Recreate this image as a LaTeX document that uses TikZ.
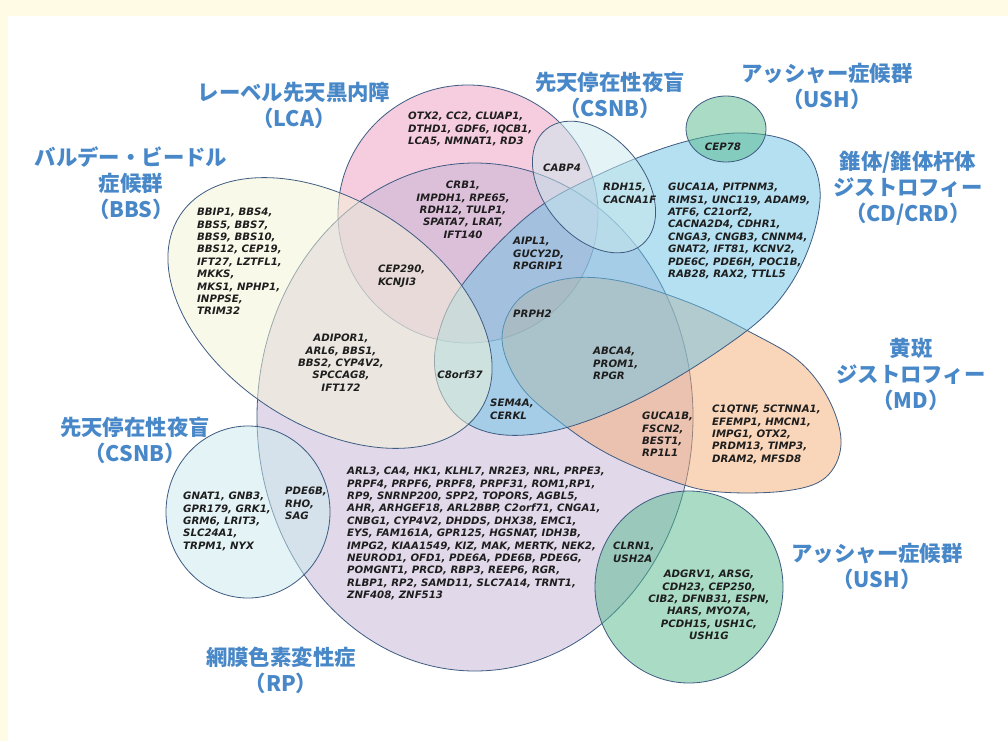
\documentclass[tikz,border=0pt]{standalone}
\usepackage{fontspec}
\newfontfamily\jp{Noto Sans CJK JP}
\newfontfamily\gene{DejaVu Sans}
\definecolor{lcaC}{RGB}{237,157,193}
\definecolor{rpC}{RGB}{197,181,215}
\definecolor{bbsC}{RGB}{245,245,215}
\definecolor{cdC}{RGB}{107,195,229}
\definecolor{mdC}{RGB}{245,173,117}
\definecolor{ushC}{RGB}{85,185,141}
\definecolor{csnbC}{RGB}{203,233,237}
\definecolor{edgeC}{RGB}{62,92,130}
\definecolor{labC}{RGB}{72,136,200}
\definecolor{geneC}{RGB}{30,30,30}
\definecolor{frameC}{RGB}{255,251,228}
\begin{document}
\begin{tikzpicture}[x=1pt,y=-1pt,
  setshape/.style={draw=edgeC, line width=0.8pt, fill opacity=0.5},
  gene/.style={font=\gene\bfseries\itshape\fontsize{10.2}{12.4}\selectfont, text=geneC, inner sep=0pt, align=left},
  genec/.style={gene, align=center},
  lab/.style={font=\jp\bfseries\fontsize{21.4}{26}\selectfont, text=labC, inner sep=0pt, align=center}]
\useasboundingbox (0,0) rectangle (1008,741);
\fill[frameC] (0,0) rectangle (1008,741);
\fill[white] (8,16) rectangle (1008,741);
% sets
\draw[setshape, fill=lcaC] (468,214) ellipse [x radius=130, y radius=129];
\draw[setshape, fill=rpC] (475,417) ellipse [x radius=218, y radius=254];
\draw[setshape, fill=mdC] plot[smooth cycle, tension=0.6] coordinates {(502,338) (520,298) (565,279) (620,281) (690,303) (750,332) (800,362) (830,402) (841,445) (825,478) (785,491) (720,492) (675,482) (610,455) (560,422) (520,385)};
\draw[setshape, fill=cdC] plot[smooth cycle, tension=0.6] coordinates {(437,340) (462,285) (530,214) (600,174) (680,143) (745,133) (800,147) (820,190) (808,250) (775,305) (720,350) (640,398) (565,428) (505,435) (462,420) (438,385)};
\draw[setshape, fill=bbsC, rotate around={-33:(330,313)}] (330,313) ellipse [x radius=179, y radius=112];
\draw[setshape, fill=csnbC, rotate around={-50:(594,187)}] (594,187) ellipse [x radius=75, y radius=50];
\draw[setshape, fill=ushC] (726,129) ellipse [x radius=40, y radius=33];
\draw[setshape, fill=csnbC] (248,512) ellipse [x radius=82, y radius=86];
\draw[setshape, fill=ushC] (689,587) ellipse [x radius=94, y radius=96];
% labels
\node[lab] (lLCA) at (294,105) {レーベル先天黒内障\\（LCA）};
\node[lab] (lCSNBt) at (610,95) {先天停在性夜盲\\（CSNB）};
\node[lab] (lUSHt) at (827,86) {アッシャー症候群\\（USH）};
\node[lab] (lCD) at (908,188) {錐体/錐体杆体\\ジストロフィー\\（CD/CRD）};
\node[lab] (lBBS) at (131,183) {バルデー・ビードル\\症候群\\（BBS）};
\node[lab] (lMD) at (911,374) {黄斑\\ジストロフィー\\（MD）};
\node[lab] (lCSNBb) at (135,440) {先天停在性夜盲\\（CSNB）};
\node[lab] (lUSHb) at (877,566) {アッシャー症候群\\（USH）};
\node[lab] (lRP) at (281,670) {網膜色素変性症\\（RP）};
% genes
\node[gene, anchor=north west] (gLCA) at (408,112) {OTX2, CC2, CLUAP1,\\DTHD1, GDF6, IQCB1,\\LCA5, NMNAT1, RD3};
\node[gene, anchor=north west] (gBBS) at (197,208) {BBIP1, BBS4,\\BBS5, BBS7,\\BBS9, BBS10,\\BBS12, CEP19,\\IFT27, LZTFL1,\\MKKS,\\MKS1, NPHP1,\\INPPSE,\\TRIM32};
\node[genec, anchor=north] (gLCARP) at (463,181) {CRB1,\\IMPDH1, RPE65,\\RDH12, TULP1,\\SPATA7, LRAT,\\IFT140};
\node[gene, anchor=north west] (gCEP290) at (378,265) {CEP290,\\KCNJI3};
\node[gene] (gCABP4) at (562,168) {CABP4};
\node[gene, anchor=north west] (gRDH15) at (603,183) {RDH15,\\CACNA1F};
\node[gene] (gCEP78) at (723,147) {CEP78};
\node[gene, anchor=north west] (gCD) at (668,183) {GUCA1A, PITPNM3,\\RIMS1, UNC119, ADAM9,\\ATF6, C21orf2,\\CACNA2D4, CDHR1,\\CNGA3, CNGB3, CNNM4,\\GNAT2, IFT81, KCNV2,\\PDE6C, PDE6H, POC1B,\\RAB28, RAX2, TTLL5};
\node[gene, anchor=north west] (gAIPL1) at (513,237) {AIPL1,\\GUCY2D,\\RPGRIP1};
\node[genec, anchor=north] (gADIPOR1) at (341,334) {ADIPOR1,\\ARL6, BBS1,\\BBS2, CYP4V2,\\SPCCAG8,\\IFT172};
\node[gene] (gC8) at (460,375) {C8orf37};
\node[gene, anchor=north west] (gSEM4A) at (490,399) {SEM4A,\\CERKL};
\node[gene, anchor=north west] (gPRPH2) at (513,310) {PRPH2};
\node[gene, anchor=north west] (gABCA4) at (593,347) {ABCA4,\\PROM1,\\RPGR};
\node[gene, anchor=north west] (gGUCA1B) at (642,412) {GUCA1B,\\FSCN2,\\BEST1,\\RP1L1};
\node[gene, anchor=north west] (gMD) at (712,405) {C1QTNF, 5CTNNA1,\\EFEMP1, HMCN1,\\IMPG1, OTX2,\\PRDM13, TIMP3,\\DRAM2, MFSD8};
\node[gene, anchor=north west] (gCSNB) at (183,492) {GNAT1, GNB3,\\GPR179, GRK1,\\GRM6, LRIT3,\\SLC24A1,\\TRPM1, NYX};
\node[gene, anchor=north west] (gPDE6B) at (285,487) {PDE6B,\\RHO,\\SAG};
\node[gene, anchor=north west] (gRP) at (347,467) {ARL3, CA4, HK1, KLHL7, NR2E3, NRL, PRPE3,\\PRPF4, PRPF6, PRPF8, PRPF31, ROM1,RP1,\\RP9, SNRNP200, SPP2, TOPORS, AGBL5,\\AHR, ARHGEF18, ARL2BBP, C2orf71, CNGA1,\\CNBG1, CYP4V2, DHDDS, DHX38, EMC1,\\EYS, FAM161A, GPR125, HGSNAT, IDH3B,\\IMPG2, KIAA1549, KIZ, MAK, MERTK, NEK2,\\NEUROD1, OFD1, PDE6A, PDE6B, PDE6G,\\POMGNT1, PRCD, RBP3, REEP6, RGR,\\RLBP1, RP2, SAMD11, SLC7A14, TRNT1,\\ZNF408, ZNF513};
\node[gene, anchor=north west] (gCLRN1) at (613,542) {CLRN1,\\USH2A};
\node[genec, anchor=north] (gUSH) at (709,570) {ADGRV1, ARSG,\\CDH23, CEP250,\\CIB2, DFNB31, ESPN,\\HARS, MYO7A,\\PCDH15, USH1C,\\USH1G};
\end{tikzpicture}
\end{document}
